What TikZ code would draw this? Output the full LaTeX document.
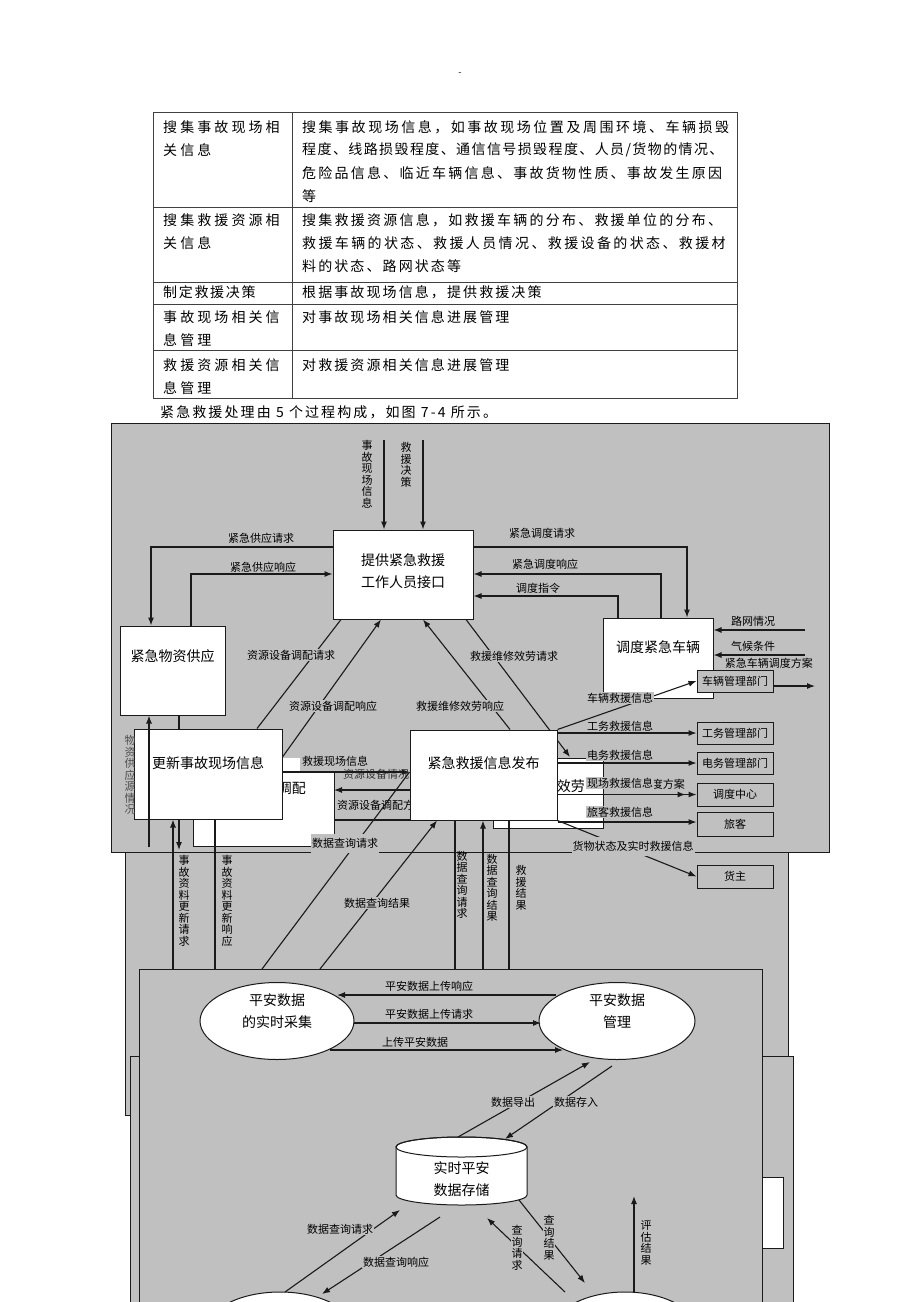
\documentclass[tikz,border=0pt]{standalone}
\usepackage{fontspec}
\setmainfont{Noto Sans CJK SC}
\newfontfamily\tblfont{Noto Sans CJK SC}
\newcommand{\lsp}[1]{\addfontfeatures{LetterSpace=#1}}
\usetikzlibrary{arrows.meta,shapes.geometric}
\definecolor{bg}{HTML}{C0C0C0}
\definecolor{edge}{HTML}{1A1A1A}
\begin{document}
\begin{tikzpicture}[x=1pt,y=-1pt,
  ln/.style={line width=1.1pt,draw=edge},
  ar/.style={ln,-{Latex[length=8pt,width=6pt]}},
  procbox/.style={draw=edge,fill=white,line width=1pt,inner sep=0},
  ptxt/.style={font=\fontsize{14}{22}\selectfont,align=center,inner sep=0},
  extbox/.style={draw=edge,fill=bg,line width=1pt,inner sep=0,font=\fontsize{11}{12}\selectfont,minimum width=76pt},
  lbl/.style={font=\fontsize{11}{12}\selectfont,inner sep=1pt},
  lblb/.style={lbl,fill=bg},
  vl/.style={font=\fontsize{11}{11.5}\selectfont,align=center,inner sep=0.5pt},
  vlb/.style={vl,fill=bg},
  tt/.style={anchor=west,font=\tblfont\fontsize{14}{16}\selectfont,inner sep=0},
  panel/.style={fill=bg,draw=edge,line width=1pt},
  tline/.style={draw=black!75,line width=0.8pt}]
\useasboundingbox (0,0) rectangle (920,1302);
\clip (0,0) rectangle (920,1302);
\fill[white] (0,0) rectangle (920,1302);

% header mark
\node[font=\fontsize{9}{9}\selectfont,inner sep=0] (dash) at (460,74) {-};

% ---------------- table ----------------
\draw[tline] (153,112) rectangle (737,398);
\draw[tline] (292,112) -- (292,398);
\foreach \yy in {207,282,304,350} \draw[tline] (153,\yy) -- (737,\yy);

\node[tt] (a1) at (163,127) {\lsp{22}搜集事故现场相};
\node[tt] (a2) at (163,150) {\lsp{22}关信息};
\node[tt] (b1) at (302,127) {\lsp{18}搜集事故现场信息，如事故现场位置及周围环境、车辆损毁};
\node[tt] (b2) at (302,150) {\lsp{10}程度、线路损毁程度、通信信号损毁程度、人员/货物的情况、};
\node[tt] (b3) at (302,173) {\lsp{16}危险品信息、临近车辆信息、事故货物性质、事故发生原因};
\node[tt] (b4) at (302,196) {等};
\node[tt] (a3) at (163,220) {\lsp{22}搜集救援资源相};
\node[tt] (a4) at (163,243) {\lsp{22}关信息};
\node[tt] (b5) at (302,220) {\lsp{16}搜集救援资源信息，如救援车辆的分布、救援单位的分布、};
\node[tt] (b6) at (302,243) {\lsp{17}救援车辆的状态、救援人员情况、救援设备的状态、救援材};
\node[tt] (b7) at (302,266) {\lsp{15}料的状态、路网状态等};
\node[tt] (a5) at (163,292) {\lsp{12}制定救援决策};
\node[tt] (b8) at (302,292) {\lsp{15}根据事故现场信息，提供救援决策};
\node[tt] (a6) at (163,317) {\lsp{22}事故现场相关信};
\node[tt] (a7) at (163,340) {\lsp{22}息管理};
\node[tt] (b9) at (302,317) {\lsp{15}对事故现场相关信息进展管理};
\node[tt] (a8) at (163,365) {\lsp{22}救援资源相关信};
\node[tt] (a9) at (163,388) {\lsp{22}息管理};
\node[tt] (b10) at (302,365) {\lsp{15}对救援资源相关信息进展管理};
\node[tt] (cap) at (160,412) {\lsp{15}紧急救援处理由 5 个过程构成，如图 7-4 所示。};

% ---------------- panels ----------------
\draw[panel] (125,852) rectangle (788,1115);
\draw[panel] (130,1056) rectangle (793,1330);
\draw[fill=white,draw=edge,line width=1pt] (762,1177) rectangle (783,1248);
\draw[panel] (139,969) rectangle (762,1330);
\draw[panel] (111,423) rectangle (829,852);

% ---------------- hidden white boxes (upper) ----------------
\draw[fill=white,draw=edge,line width=1pt] (193,772) rectangle (334,846);
\node[ptxt,anchor=east] (tiaopei) at (306,788) {资源设备调配};
\draw[fill=white,draw=edge,line width=1pt] (493,758) rectangle (603,828);
\node[ptxt,anchor=east] (weixiu) at (585,786) {救援维修效劳};
\draw[fill=white,draw=none] (282,758) rectangle (300,772);

% ---------------- main process boxes ----------------
\node[procbox,minimum width=140pt,minimum height=89pt] (p1) at (403,574.5) {};
\node[ptxt] (p1t) at (403,571) {提供紧急救援\\工作人员接口};
\node[procbox,minimum width=105pt,minimum height=89pt] (sup) at (172.5,670.5) {};
\node[ptxt] (supt) at (172.5,656) {紧急物资供应};
\node[procbox,minimum width=110pt,minimum height=80pt] (veh) at (658,658) {};
\node[ptxt] (veht) at (658,647) {调度紧急车辆};

% ---------------- connectors around p1 ----------------
\coordinate (in1) at (384,440);
\coordinate (in2) at (423,440);
\draw[ar] (in1) -- (p1.north -| in1);
\draw[ar] (in2) -- (p1.north -| in2);
\node[vl] (l1) at (367,474) {事\\故\\现\\场\\信\\息};
\node[vl] (l2) at (406,465) {救\\援\\决\\策};

\draw[ar] (p1.west |- 0,547) -| (sup.north -| 151,0);
\node[lbl] (l3) at (261,538) {紧急供应请求};
\draw[ar] (sup.north -| 191,0) |- (p1.west |- 0,574);
\node[lblb] (l4) at (263,567) {紧急供应响应};

\draw[ar] (p1.east |- 0,547) -| (veh.north -| 687,0);
\node[lbl] (l5) at (542,533) {紧急调度请求};
\draw[ar] (veh.north -| 661,0) |- (p1.east |- 0,574);
\node[lbl] (l6) at (545,564) {紧急调度响应};
\draw[ar] (veh.north -| 618,0) |- (p1.east |- 0,596);
\node[lbl] (l7) at (538,588) {调度指令};

\coordinate (rw) at (805,630);
\coordinate (qh) at (805,655);
\coordinate (fa) at (815,686);
\draw[ar] (rw) -- (veh.east |- rw);
\node[lbl] (l8) at (753,621) {路网情况};
\draw[ar] (qh) -- (veh.east |- qh);
\node[lbl] (l9) at (753,646) {气候条件};
\node[lbl,anchor=east,inner sep=0] (l10) at (813,663) {紧急车辆调度方案};
\draw[ar] (veh.east |- fa) -- (fa);

% ---------------- boxes: update / publish ----------------
\node[procbox,minimum width=148pt,minimum height=90pt] (upd) at (208,774) {};
\node[ptxt] (updt) at (208,763) {更新事故现场信息};

% lines between p1 and lower boxes
\draw[ln] (upd.north -| 257,0) -- (p1.south -| 341,0);
\node[lblb] (l11) at (291,655) {资源设备调配请求};
\draw[ar] (upd.east |- 0,757) -- (p1.south -| 381,0);
\node[lblb] (l12) at (333,706) {资源设备调配响应};
\draw[ar] (p1.south -| 466,0) -- (570,757);
\node[lblb] (l13) at (514,656) {救援维修效劳请求};

% material supply side
\draw[ar] (149,847) -- (sup.south -| 149,0);
\node[vl,text=black!70] (l14) at (130,775) {物\\资\\供\\应\\源\\情\\况};
\draw[ln] (sup.south -| 179,0) -- (upd.north -| 179,0);
\draw[ar] (upd.south -| 179,0) -- (179,850);
\draw[ar] (173,969) -- (upd.south -| 173,0);
\node[vl] (l15) at (184,901) {事\\故\\资\\料\\更\\新\\请\\求};
\draw[ln] (upd.south -| 215,0) -- (215,969);
\node[vl] (l16) at (227,901) {事\\故\\资\\料\\更\\新\\响\\应};

% update -> publish
\node[lbl,text=black!80] (l17) at (376,774) {资源设备情况};
\node[lbl,anchor=west] (l18) at (336,805) {资源设备调配方案};

\node[procbox,minimum width=147pt,minimum height=90pt] (pub) at (483.5,775) {};
\node[ptxt] (pubt) at (483.5,763) {紧急救援信息发布};

\draw[ar] (pub.north -| 510,0) -- (p1.south -| 423,0);
\node[lblb] (l19) at (460,706) {救援维修效劳响应};

\draw[ar] (upd.east |- 0,772) -- (pub.west |- 0,772);
\node[lblb] (l20) at (335,761) {救援现场信息};
\draw[ar] (pub.west |- 0,790) -- (334,790);
\draw[ln] (334,820) -- (pub.west |- 0,820);

% publish <-> lower panel
\coordinate (q1) at (262,969);
\coordinate (q2) at (320,969);
\draw[ln] (q1) -- (pub.west |- 0,772);
\node[lblb,minimum height=19pt] (l21) at (345,843) {数据查询请求};
\draw[ar] (q2) -- (pub.south -| 437,0);
\node[lblb] (l22) at (377,903) {数据查询结果};
\draw[ln] (pub.south -| 455,0) -- (455,969);
\node[vl] (l23) at (462,885) {数\\据\\查\\询\\请\\求};
\draw[ar] (483,969) -- (pub.south -| 483,0);
\node[vl] (l24) at (492,888) {数\\据\\查\\询\\结\\果};
\draw[ln] (pub.south -| 509,0) -- (509,969);
\node[vl] (l25) at (521,888) {救\\援\\结\\果};

% ---------------- external boxes on the right ----------------
\node[extbox,minimum height=22pt] (d1) at (735,681) {车辆管理部门};
\node[extbox,minimum height=22pt] (d2) at (735,733) {工务管理部门};
\node[extbox,minimum height=22pt] (d3) at (735,763) {电务管理部门};
\node[extbox,minimum height=23pt] (d4) at (735,794.5) {调度中心};
\node[extbox,minimum height=24pt] (d5) at (735,824) {旅客};
\node[extbox,minimum height=23pt] (d6) at (735,876.5) {货主};

\draw[ar] (pub.north east) -- (d1.west);
\node[lblb] (l26) at (620,698) {车辆救援信息};
\draw[ar] (pub.east |- d2.west) -- (d2.west);
\node[lblb] (l27) at (620,726) {工务救援信息};
\draw[ar] (pub.east |- d3.west) -- (d3.west);
\node[lblb] (l28) at (620,755) {电务救援信息};
\node[lbl,anchor=east] (l29b) at (686,784) {度方案};
\draw[ar] (pub.east |- d4.west) -- (d4.west);
\draw[ar] (pub.east |- d4.west) -- ([xshift=-11pt]d4.west);
\node[lblb] (l29) at (620,783) {现场救援信息};
\draw[ar] (pub.east |- 0,822) -- (d5.west |- 0,822);
\node[lblb] (l30) at (620,812) {旅客救援信息};
\draw[ar] (pub.south east) -- (d6.west);
\node[lblb,minimum height=19pt] (l31) at (633,846) {货物状态及实时救援信息};

% ---------------- lower panel ----------------
\node[ellipse,draw=edge,fill=white,line width=1pt,minimum width=154pt,minimum height=77pt,inner sep=0] (e1) at (277,1021) {};
\node[ptxt] (e1t) at (277,1011) {平安数据\\的实时采集};
\node[ellipse,draw=edge,fill=white,line width=1pt,minimum width=156pt,minimum height=77pt,inner sep=0] (e2) at (617,1021) {};
\node[ptxt] (e2t) at (617,1011) {平安数据\\管理};

\draw[ar] (556,995) -- (337,995);
\node[lbl] (m1) at (429,986) {平安数据上传响应};
\draw[ar] (354,1023) -- (541,1023);
\node[lbl] (m2) at (429,1014) {平安数据上传请求};
\draw[ar] (330,1050) -- (563,1050);
\node[lbl] (m3) at (415,1042) {上传平安数据};

% storage cylinder
\node[minimum width=131pt,minimum height=68pt,inner sep=0] (db) at (461.5,1176) {};
\draw[fill=white,draw=edge,line width=1pt] (396,1147) -- (396,1195)
   arc[start angle=180,end angle=360,x radius=65.5pt,y radius=10pt] -- (527,1147)
   arc[start angle=0,end angle=180,x radius=65.5pt,y radius=10pt] -- cycle;
\draw[draw=edge,line width=1pt] (461.5,1147) ellipse[x radius=65.5pt,y radius=10pt];
\node[ptxt] (dbt) at (461.5,1179) {实时平安\\数据存储};

\draw[ar] (458,1137) -- (590,1062);
\node[lblb] (m4) at (513,1102) {数据导出};
\draw[ar] (612,1066) -- (505,1139);
\node[lblb] (m5) at (576,1102) {数据存入};

% bottom ellipses (cut by page edge)
\node[ellipse,draw=edge,fill=white,line width=1pt,minimum width=150pt,minimum height=80pt,inner sep=0] (e3) at (280,1332) {};
\node[ellipse,draw=edge,fill=white,line width=1pt,minimum width=146pt,minimum height=80pt,inner sep=0] (e4) at (625,1332) {};

\draw[ar] (285,1292) -- (400,1210);
\node[lblb] (m6) at (340,1229) {数据查询请求};
\draw[ar] (440,1217) -- (322,1294);
\node[lblb] (m7) at (396,1262) {数据查询响应};
\draw[ar] (565,1292) -- (487,1218);
\node[vlb] (m8) at (517,1248) {查\\询\\请\\求};
\draw[ar] (519,1200) -- (585,1283);
\node[vlb] (m9) at (549,1238) {查\\询\\结\\果};
\draw[ar] (634,1292) -- (634,1196);
\node[vl] (m10) at (646,1243) {评\\估\\结\\果};
\end{tikzpicture}
\end{document}
